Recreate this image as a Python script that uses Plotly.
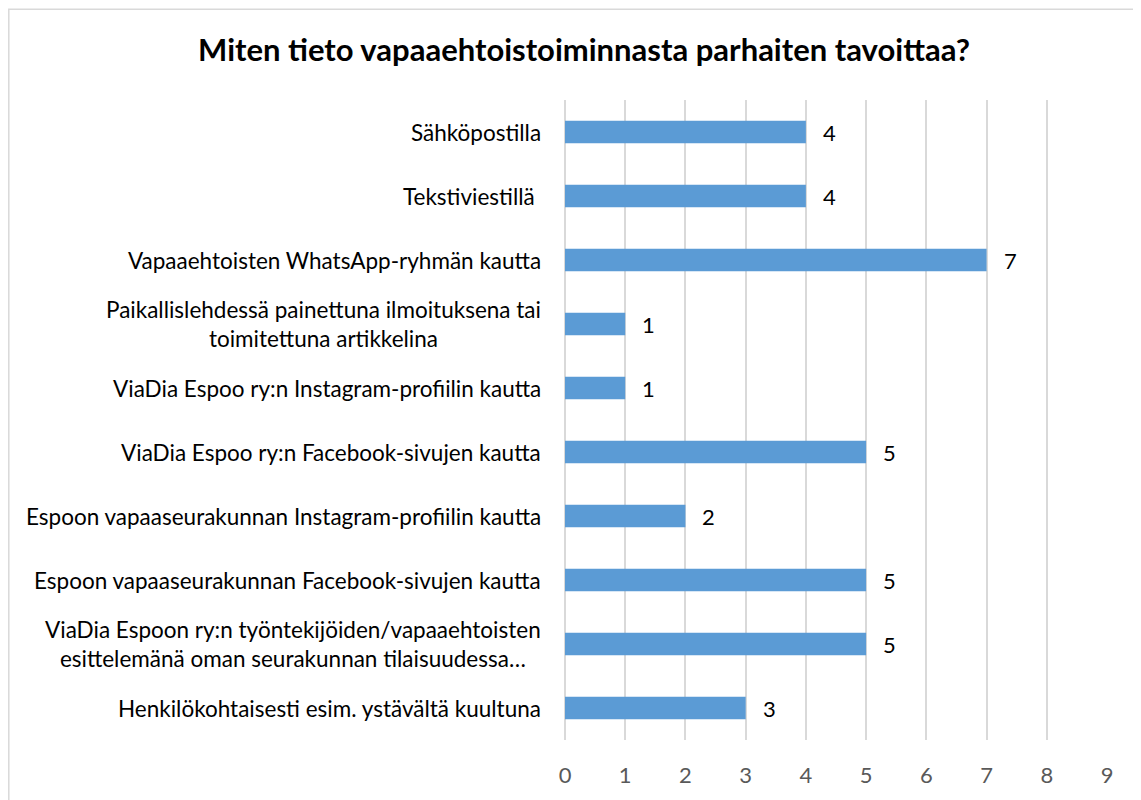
import plotly.graph_objects as go

TITLE = "Miten tieto vapaaehtoistoiminnasta parhaiten tavoittaa?"
CATEGORIES = [
    "Sähköpostilla",
    "Tekstiviestillä\u00a0",
    "Vapaaehtoisten WhatsApp-ryhmän kautta",
    "Paikallislehdessä painettuna ilmoituksena tai<br>toimitettuna artikkelina",
    "ViaDia Espoo ry:n Instagram-profiilin kautta",
    "ViaDia Espoo ry:n Facebook-sivujen kautta",
    "Espoon vapaaseurakunnan Instagram-profiilin kautta",
    "Espoon vapaaseurakunnan Facebook-sivujen kautta",
    "ViaDia Espoon ry:n työntekijöiden/vapaaehtoisten<br>esittelemänä oman seurakunnan tilaisuudessa…",
    "Henkilökohtaisesti esim. ystävältä kuultuna",
]
VALUES = [4, 4, 7, 1, 1, 5, 2, 5, 5, 3]
X_TICKS = list(range(0, 10))

# the page body has an 8px margin, so the figure is sized to sit inside it
W, H = 1133, 792
ML, MR, MT, MB = 557, 34, 92, 57
BAR = "#5b9bd5"
GRID = "#d9d9d9"
FONT = "Lato, 'Open Sans', sans-serif"
PW, PH = W - ML - MR, H - MT - MB

fig = go.Figure(
    go.Bar(
        x=VALUES,
        y=CATEGORIES,
        orientation="h",
        marker=dict(color=BAR, line=dict(width=0)),
        width=0.35,
        hoverinfo="skip",
    )
)

# category labels (centred multi-line, right-anchored like Excel)
for cat in CATEGORIES:
    fig.add_annotation(
        x=0, y=cat, xref="x", yref="y", text=cat, showarrow=False,
        xanchor="right", align="center", xshift=-22,
        font=dict(size=22.5, color="#000000", family=FONT),
    )

# value labels
for cat, v in zip(CATEGORIES, VALUES):
    fig.add_annotation(
        x=v, y=cat, xref="x", yref="y", text=str(v), showarrow=False,
        xanchor="left", xshift=15,
        font=dict(size=22, color="#000000", family=FONT),
    )

# chart border
fig.add_shape(
    type="rect", xref="paper", yref="paper",
    x0=(0.8 - ML) / PW, x1=(W + 10 - ML) / PW,
    y0=(-MB - 10) / PH, y1=(H - 0.8 - MB) / PH,
    line=dict(color=GRID, width=1.5), layer="below",
)

fig.update_layout(
    width=W, height=H,
    paper_bgcolor="white", plot_bgcolor="white",
    margin=dict(l=ML, r=MR, t=MT, b=MB),
    showlegend=False,
    font=dict(family=FONT, color="#000000"),
    title=dict(
        text=f"<b>{TITLE}</b>", x=576 / W, xanchor="center",
        y=1 - 42 / H, yanchor="middle", yref="container",
        font=dict(size=31, color="#000000", family=FONT),
    ),
)
fig.update_xaxes(
    range=[0, 9], tickvals=X_TICKS, showgrid=True, gridcolor=GRID, gridwidth=1.5,
    zeroline=True, zerolinecolor=GRID, zerolinewidth=1.5, showline=False,
    ticks="", ticklabelstandoff=20,
    tickfont=dict(size=22, color="#595959", family=FONT), fixedrange=True,
)
fig.update_yaxes(
    autorange="reversed", showticklabels=False, showgrid=False, zeroline=False,
    showline=False, ticks="", fixedrange=True,
)

fig.write_html("out.html")
